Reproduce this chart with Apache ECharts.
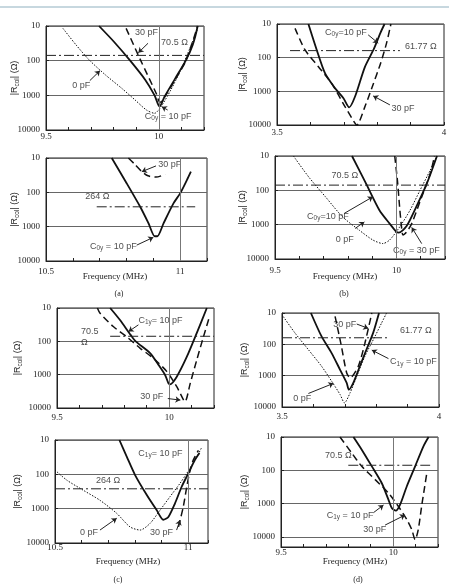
<!DOCTYPE html>
<html>
<head>
	<meta charset="utf-8">
	<title>Rcol vs frequency</title>
	<script type="text/javascript" src="https://cdn.jsdelivr.net/npm/echarts@6.0.0/dist/echarts.min.js"></script>
	<style>body{margin:0;background:#fff;}</style>
</head>
<body>
	<div id="main" style="width:449px;height:585px;"></div>
	<script type="text/javascript">
		// ---- data, [frequency, |Rcol|] ----
		// (a) upper
		var a1C10 = [[9.735,10],[9.80,28],[9.873,100],[9.94,360],[9.981,1000],[10.003,2100],[10.025,1100],[10.072,330],[10.119,100],[10.15,35],[10.172,10]];
		var a1C30 = [[9.855,11.7],[9.92,100],[9.988,870],[10.005,1600],[10.03,1000],[10.075,330],[10.12,100],[10.172,10]];
		var a1C0 = [[9.575,11.7],[9.633,35],[9.691,95],[9.764,260],[9.836,630],[9.894,1350],[9.945,2650],[9.981,3300],[10.01,2100],[10.053,700],[10.097,185],[10.14,40],[10.17,13]];
		var a1Ref = [[9.5,70.5],[10.2,70.5]];
		// (a) lower
		var a2C10 = [[10.745,10],[10.801,55],[10.851,263],[10.882,795],[10.905,1900],[10.915,1900],[10.938,800],[10.975,210],[11.0,107],[11.025,44],[11.04,25]];
		var a2C30 = [[10.807,10],[10.83,15],[10.855,24],[10.88,33],[10.91,36],[10.944,30]];
		var a2Ref = [[10.689,264],[11.056,264]];
		// (b) upper
		var b1C10 = [[3.594,10],[3.619,59],[3.644,293],[3.674,810],[3.699,1600],[3.716,3000],[3.734,1400],[3.763,190],[3.79,55],[3.81,18],[3.822,10]];
		var b1C30 = [[3.554,13.5],[3.584,59],[3.624,185],[3.664,590],[3.704,2900],[3.734,9000],[3.739,10000],[3.763,2900],[3.785,740],[3.81,148],[3.828,37],[3.841,10]];
		var b1Ref = [[3.539,61.77],[3.868,61.77]];
		// (b) lower
		var b2C10 = [[9.817,10],[9.875,64],[9.93,380],[9.972,930],[10.0,1620],[10.01,1700],[10.042,1100],[10.083,290],[10.125,64],[10.167,10]];
		var b2C30 = [[9.993,10],[10.005,60],[10.013,300],[10.02,1000],[10.027,2000],[10.04,1700],[10.063,930],[10.104,155],[10.139,33],[10.157,10]];
		var b2C0 = [[9.576,10],[9.639,41],[9.708,155],[9.778,590],[9.847,1450],[9.903,2800],[9.944,3550],[9.972,2800],[10.014,1150],[10.056,380],[10.097,100],[10.139,26],[10.167,10]];
		var b2Ref = [[9.5,70.5],[10.2,70.5]];
		// (c) upper
		var c1C10 = [[9.737,10],[9.781,23],[9.829,65],[9.851,100],[9.915,225],[9.952,500],[9.982,1020],[9.997,1820],[10.004,1950],[10.034,1150],[10.079,290],[10.123,57],[10.168,10]];
		var c1C30 = [[9.68,10],[9.692,14.4],[9.751,36],[9.811,73],[9.871,162],[9.93,323],[9.99,810],[10.034,2300],[10.064,5700],[10.071,6500],[10.094,1820],[10.123,365],[10.153,73],[10.178,20]];
		var c1Ref = [[9.737,70.5],[10.2,70.5]];
		// (c) lower
		var c2C10 = [[10.742,10],[10.77,31],[10.801,105],[10.845,400],[10.882,1100],[10.907,2100],[10.926,1750],[10.951,700],[10.976,230],[11.001,94],[11.026,38],[11.043,24]];
		var c2C30 = [[10.964,3400],[10.982,890],[10.995,235],[11.008,74],[11.02,38],[11.039,20]];
		var c2C0 = [[10.5,75],[10.544,147],[10.606,290],[10.669,570],[10.732,1370],[10.782,3400],[10.82,4200],[10.857,2700],[10.895,1100],[10.932,450],[10.97,182],[10.995,94],[11.033,31],[11.052,16]];
		var c2Ref = [[10.5,264],[11.075,264]];
		// (d) upper
		var d1C10 = [[3.592,10],[3.626,56],[3.658,190],[3.685,650],[3.706,1700],[3.713,2800],[3.727,1700],[3.748,500],[3.769,148],[3.79,44],[3.809,10]];
		var d1C30 = [[3.669,12.8],[3.688,100],[3.706,820],[3.717,1170],[3.743,500],[3.764,92],[3.786,10]];
		var d1C0 = [[3.504,13],[3.541,43],[3.584,148],[3.626,500],[3.658,1500],[3.685,4000],[3.699,7400],[3.717,3500],[3.738,1050],[3.764,240],[3.796,56],[3.817,21],[3.833,10]];
		var d1Ref = [[3.5,61.77],[3.839,61.77]];
		// (d) lower
		var d2C10 = [[9.823,10],[9.86,24],[9.905,76],[9.949,240],[9.979,760],[9.994,1350],[10.012,1620],[10.031,1070],[10.061,300],[10.098,76],[10.135,19],[10.158,10]];
		var d2C30 = [[9.763,10],[9.815,30],[9.86,76],[9.92,190],[9.979,480],[10.023,1200],[10.061,3000],[10.083,6000],[10.098,12000],[10.112,6000],[10.127,1200],[10.141,300],[10.149,135]];
		var d2Ref = [[9.8,70.5],[10.165,70.5]];

		var STYLES = {
			solid: {type:'solid', width:1.8},
			dash: {type:[7,4], width:1.5},
			dot: {type:[1.5,1.5], width:1}
		};
		var SUB = {fontSize:6.5, lineHeight:7, verticalAlign:'bottom', fontFamily:'Liberation Sans', color:'#222'};

		// layout + annotations (label anchors and arrows in data coords)
		var panels = [
			{rect:[46,26,158,104], x:[9.5,10.2], yMax:10000, vline:10, lm:2.5, ng:25,
			 curves:[[a1C10,'solid'],[a1C30,'dash'],[a1C0,'dot']], ref:a1Ref,
			 notes:[[9.894,15,'30 pF'],[10.01,30,'70.5 Ω'],[9.616,537,'0 pF'],[9.938,4100,'C{s|0y} = 10 pF']],
			 arrows:[[9.952,31.5,9.909,59],[9.694,377,9.739,195],[10.039,2650,10.013,2130]]},
			{rect:[46,158,161,103], x:[10.5,11.1], yMax:10000, vline:11, lm:6.5, ng:25,
			 curves:[[a2C10,'solid'],[a2C30,'dash']], ref:a2Ref,
			 notes:[[10.918,16,'30 pF'],[10.646,134,'264 Ω'],[10.664,3750,'C{s|0y} = 10 pF']],
			 arrows:[[10.91,17,10.857,25],[10.838,3450,10.9,2050]]},
			{rect:[277,24,167,101], x:[3.5,4], yMax:10000, vline:null, lm:3.5, ng:28,
			 curves:[[b1C10,'solid'],[b1C30,'dash']], ref:b1Ref,
			 notes:[[3.644,18,'C{s|0y}=10 pF'],[3.883,47,'61.77 Ω'],[3.843,3330,'30 pF']],
			 arrows:[[3.773,21,3.803,37],[3.838,2530,3.788,1370]]},
			{rect:[275,156,170,103], x:[9.5,10.2], yMax:10000, vline:10, lm:7, ng:26,
			 curves:[[b2C10,'solid'],[b2C30,'dash'],[b2C0,'dot']], ref:b2Ref,
			 notes:[[9.733,38,'70.5 Ω'],[9.632,560,'C{s|0y}=10 pF'],[9.75,2630,'0 pF'],[9.986,5500,'C{s|0y} = 30 pF']],
			 arrows:[[9.785,470,9.903,154],[9.83,1290,9.868,830],[10.104,3560,10.063,1200]]},
			{rect:[57,308,157,100], x:[9.5,10.2], yMax:10000, vline:10, lm:5.5, ng:33,
			 curves:[[c1C10,'solid'],[c1C30,'dash']], ref:c1Ref,
			 notes:[[9.863,23,'C{s|1y}= 10 pF'],[9.607,74,'70.5\nΩ'],[9.871,4600,'30 pF']],
			 arrows:[[9.863,32,9.819,51],[9.994,5200,10.05,5800]]},
			{rect:[55,440,153,103], x:[10.5,11.075], yMax:10000, vline:11, lm:0.5, ng:31,
			 curves:[[c2C10,'solid'],[c2C30,'dash'],[c2C0,'dot']], ref:c2Ref,
			 notes:[[10.813,24,'C{s|1y}= 10 pF'],[10.654,147,'264 Ω'],[10.594,4900,'0 pF'],[10.857,4900,'30 pF']],
			 arrows:[[10.669,4200,10.732,1900],[10.957,4200,10.97,2150]]},
			{rect:[282,313,157,94], x:[3.5,4], yMax:10000, vline:null, lm:5, ng:31,
			 curves:[[d1C10,'solid'],[d1C30,'dash'],[d1C0,'dot']], ref:d1Ref,
			 notes:[[3.663,22.5,'30 pF'],[3.876,35,'61.77 Ω'],[3.844,360,'C{s|1y} = 10 pF'],[3.536,5300,'0 pF']],
			 arrows:[[3.738,22.5,3.775,31],[3.839,285,3.786,153],[3.584,3700,3.664,1760]]},
			{rect:[281,437,157,110], x:[9.5,10.2], yMax:20000, vline:10, lm:1, ng:30,
			 curves:[[d2C10,'solid'],[d2C30,'dash']], ref:d2Ref,
			 notes:[[9.696,37,'70.5 Ω'],[9.704,2200,'C{s|1y} = 10 pF'],[9.867,5900,'30 pF']],
			 arrows:[[9.912,1870,9.957,1100],[9.964,4400,10.053,2200]]}
		];

		function xLabel(v) {
			var h = v * 2;
			return Math.abs(h - Math.round(h)) < 1e-6 ? String(+v.toFixed(1)) : '';
		}
		function yLabel(v) {
			var r = Math.round(v);
			return [10,100,1000,10000].indexOf(r) >= 0 ? String(r) : '';
		}

		var option = {animation:false, backgroundColor:'#fff', grid:[], xAxis:[], yAxis:[], series:[], graphic:[]};

		panels.forEach(function(p, i){
			option.grid.push({left:p.rect[0], top:p.rect[1], width:p.rect[2], height:p.rect[3],
				show:true, borderColor:'#222', borderWidth:1, outerBoundsMode:'none'});
			option.xAxis.push({gridIndex:i, type:'value', min:p.x[0], max:p.x[1], interval:0.1,
				axisLine:{show:true, onZero:false, lineStyle:{color:'#222'}},
				axisTick:{show:true, inside:true, length:3, lineStyle:{color:'#222'}},
				axisLabel:{margin:p.lm, fontFamily:'Liberation Serif', fontSize:9, color:'#222', formatter:xLabel},
				splitLine:{show:false}});
			option.yAxis.push({gridIndex:i, type:'log', logBase:10, min:10, max:p.yMax, inverse:true,
				axisLine:{show:true, lineStyle:{color:'#222'}},
				axisTick:{show:true, inside:true, length:3, lineStyle:{color:'#222'}},
				axisLabel:{margin:6, fontFamily:'Liberation Serif', fontSize:9, color:'#222', formatter:yLabel},
				splitLine:{show:true, lineStyle:{color:'#666', width:1}},
				name:'|R{s|col}| (Ω)', nameLocation:'middle', nameRotate:90, nameGap:p.ng, nameMoveOverlap:false,
				nameTextStyle:{fontFamily:'Liberation Sans', fontSize:9, color:'#222', lineHeight:13, rich:{s:SUB}}});

			p.curves.forEach(function(c){
				option.series.push({type:'line', xAxisIndex:i, yAxisIndex:i, data:c[0], showSymbol:false,
					smooth:0.25, silent:true, lineStyle:Object.assign({color:'#111'}, STYLES[c[1]])});
			});

			// horizontal reference level (dash-dot) + vertical grid line
			option.series.push({type:'line', xAxisIndex:i, yAxisIndex:i, data:p.ref, showSymbol:false, silent:true,
				lineStyle:{color:'#222', width:1, type:[10,3,2,3]},
				markLine: p.vline == null ? undefined : {silent:true, symbol:['none','none'], label:{show:false},
					lineStyle:{color:'#777', type:'solid', width:1}, data:[{xAxis:p.vline}]}});

			// text notes + arrows
			option.series.push({type:'scatter', xAxisIndex:i, yAxisIndex:i, symbolSize:0, silent:true,
				data:p.notes.map(function(n){ return {value:[n[0], n[1]], name:n[2]}; }),
				label:{show:true, position:[0,0], align:'left', verticalAlign:'middle', formatter:'{b}',
					fontFamily:'Liberation Sans', fontSize:9, color:'#222', lineHeight:11, rich:{s:SUB}},
				markLine:{silent:true, symbol:['none','arrow'], symbolSize:5, label:{show:false},
					lineStyle:{color:'#222', width:1, type:'solid'},
					data:p.arrows.map(function(a){ return [{coord:[a[0],a[1]]},{coord:[a[2],a[3]]}]; })}});
		});

		function caption(txt, x, y, size) {
			return {type:'text', x:x, y:y, silent:true,
				style:{text:txt, font:size + 'px "Liberation Serif"', fill:'#222',
					textAlign:'center', textVerticalAlign:'middle', align:'center', verticalAlign:'middle'}};
		}
		option.graphic = [
			{type:'line', shape:{x1:0, y1:7, x2:449, y2:7}, style:{stroke:'#8fb0bf', lineWidth:1}, silent:true},
			caption('Frequency (MHz)', 115, 277, 9), caption('(a)', 119, 294, 8),
			caption('Frequency (MHz)', 345, 277, 9), caption('(b)', 344, 294, 8),
			caption('Frequency (MHz)', 128, 562, 9), caption('(c)', 118, 580, 8),
			caption('Frequency (MHz)', 355, 562, 9), caption('(d)', 358, 580, 8)
		];

		var myChart = echarts.init(document.getElementById('main'));
		myChart.setOption(option);
	</script>
</body>
</html>
